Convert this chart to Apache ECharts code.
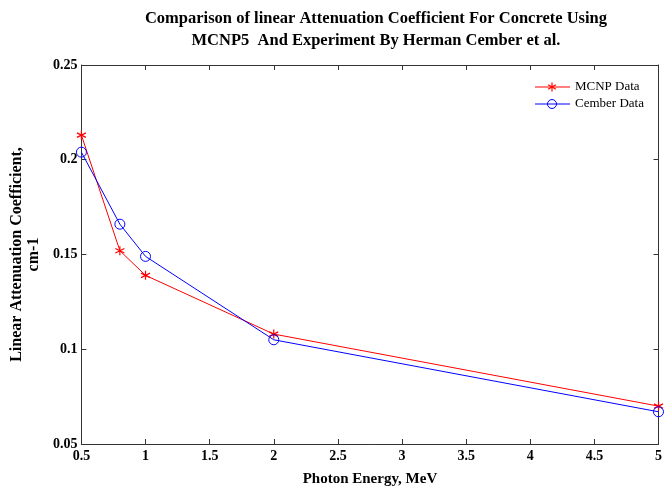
<!DOCTYPE html>
<html><head><meta charset="utf-8">
<script src="https://cdn.jsdelivr.net/npm/echarts@6/dist/echarts.min.js"></script>
<style>html,body{margin:0;padding:0;background:#fff}#c{width:665px;height:492px}</style>
</head><body><div id="c"></div>
<script>
const energy = [0.5, 0.8, 1, 2, 5];
const mcnp = [0.213, 0.152, 0.139, 0.108, 0.070];
const cember = [0.204, 0.166, 0.149, 0.105, 0.067];
const xTicks = [0.5, 1, 1.5, 2, 2.5, 3, 3.5, 4, 4.5, 5];
const yTicks = [0.05, 0.1, 0.15, 0.2, 0.25];
const seriesNames = ['MCNP Data', 'Cember Data'];

const F = '"Liberation Serif", "DejaVu Serif", serif';
const star = 'path://M0,-1L0,1M-0.87,-0.5L0.87,0.5M-0.87,0.5L0.87,-0.5';
const ring = 'path://M1,0A1,1 0 1,1 -1,0A1,1 0 1,1 1,0Z';
const chart = echarts.init(document.getElementById('c'), null, {renderer:'canvas'});
const axisBase = {
  axisLine:{show:true, lineStyle:{color:'#333', width:1}},
  axisTick:{show:true, inside:true, length:5, lineStyle:{color:'#333'}},
  splitLine:{show:false}
};
function legendEntry(y, color, name, starMark){
  const mark = starMark
    ? {type:'group', x:552, y:y, children:[
        {type:'line', shape:{x1:0,y1:-4.5,x2:0,y2:4.5}, style:{stroke:color, lineWidth:1.2}},
        {type:'line', shape:{x1:-3.9,y1:-2.25,x2:3.9,y2:2.25}, style:{stroke:color, lineWidth:1.2}},
        {type:'line', shape:{x1:-3.9,y1:2.25,x2:3.9,y2:-2.25}, style:{stroke:color, lineWidth:1.2}}]}
    : {type:'circle', shape:{cx:552, cy:y, r:4.5}, style:{fill:'none', stroke:color, lineWidth:1}};
  return [
    {type:'line', shape:{x1:535, y1:y, x2:570, y2:y}, style:{stroke:color, lineWidth:1}},
    mark,
    {type:'text', x:575, y:y, style:{text:name, fill:'#000', font:'13px '+F, textVerticalAlign:'middle'}}
  ];
}
chart.setOption({
  animation:false,
  title:{
    text:'Comparison of linear Attenuation Coefficient For Concrete Using\nMCNP5  And Experiment By Herman Cember et al.',
    left:371, top:3, textAlign:'center',
    textStyle:{fontFamily:F, fontWeight:'bold', fontSize:16.5, lineHeight:22, color:'#000'}
  },
  graphic:[].concat(legendEntry(87, '#ff0000', seriesNames[0], true), legendEntry(104, '#0000ff', seriesNames[1], false)),
  grid:{left:81, right:2, top:65, bottom:48},
  xAxis:[
    Object.assign({}, axisBase, {type:'value', min:0.5, max:5, interval:0.5,
      name:'Photon Energy, MeV', nameLocation:'middle', nameGap:28,
      nameTextStyle:{fontFamily:F, fontWeight:'bold', fontSize:15, color:'#000'},
      axisLabel:{fontFamily:F, fontWeight:'bold', fontSize:14, color:'#000', margin:5,
        formatter:v=>String(+v.toFixed(2))}}),
    Object.assign({}, axisBase, {type:'value', position:'top', min:0.5, max:5, interval:0.5,
      axisLabel:{show:false}})
  ],
  yAxis:[
    Object.assign({}, axisBase, {type:'value', min:0.05, max:0.25, interval:0.05,
      name:'Linear Attenuation Coefficient,\ncm-1', nameLocation:'middle', nameGap:39,
      nameTextStyle:{fontFamily:F, fontWeight:'bold', fontSize:16, lineHeight:17, color:'#000'},
      axisLabel:{fontFamily:F, fontWeight:'bold', fontSize:14, color:'#000', margin:4,
        formatter:v=>String(+v.toFixed(2))}}),
    Object.assign({}, axisBase, {type:'value', position:'right', min:0.05, max:0.25, interval:0.05,
      axisLabel:{show:false}})
  ],
  series:[
    {name:seriesNames[0], type:'line', data:energy.map((e,i)=>[e,mcnp[i]]),
      symbol:star, symbolSize:9, showAllSymbol:true,
      lineStyle:{color:'#ff0000', width:1},
      itemStyle:{color:'#ff0000', borderColor:'#ff0000', borderWidth:1.2}},
    {name:seriesNames[1], type:'line', data:energy.map((e,i)=>[e,cember[i]]),
      symbol:ring, symbolSize:10, showAllSymbol:true,
      lineStyle:{color:'#0000ff', width:1},
      itemStyle:{color:'rgba(0,0,0,0)', borderColor:'#0000ff', borderWidth:1}}
  ]
});
</script></body></html>
